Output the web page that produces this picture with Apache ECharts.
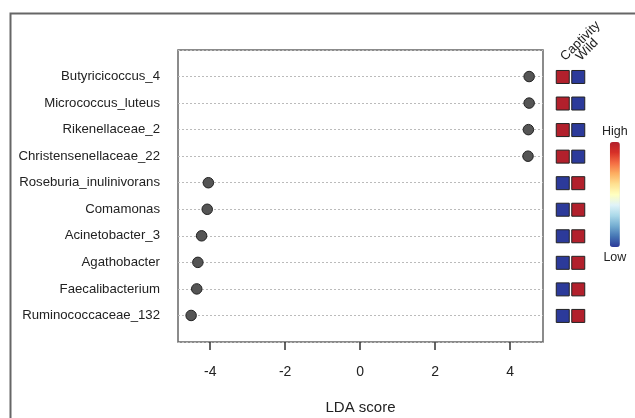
<!DOCTYPE html>
<html>
<head>
<meta charset="utf-8">
<script src="https://cdn.jsdelivr.net/npm/echarts@6/dist/echarts.min.js"></script>
<style>
  html, body { margin: 0; padding: 0; background: #fff; }
  #chart { width: 635px; height: 418px; }
</style>
</head>
<body>
<div id="chart"></div>
<script>
// taxa, top to bottom
const taxa = [
  "Butyricicoccus_4",
  "Micrococcus_luteus",
  "Rikenellaceae_2",
  "Christensenellaceae_22",
  "Roseburia_inulinivorans",
  "Comamonas",
  "Acinetobacter_3",
  "Agathobacter",
  "Faecalibacterium",
  "Ruminococcaceae_132"
];
const ldaScores = [4.51, 4.51, 4.49, 4.48, -4.05, -4.08, -4.23, -4.33, -4.36, -4.51];
const groups = ["Captivity", "Wild"];
// relative abundance, 1 = high, 0 = low
const captivity = [1, 1, 1, 1, 0, 0, 0, 0, 0, 0];
const wild = [0, 0, 0, 0, 1, 1, 1, 1, 1, 1];
const xTicks = [-4, -2, 0, 2, 4];

const font = "Liberation Sans";

const dots = ldaScores.map((v, i) => [v, i + 1]);
const cells = [];
taxa.forEach((t, i) => {
  cells.push([groups[0], t, captivity[i]]);
  cells.push([groups[1], t, wild[i]]);
});

const chart = echarts.init(document.getElementById("chart"));
chart.setOption({
  animation: false,
  backgroundColor: "#fff",
  textStyle: { fontFamily: font },
  graphic: [
    {
      type: "rect",
      left: 8,
      top: 11,
      shape: { width: 700, height: 500 },
      style: { fill: "none", stroke: "#666", lineWidth: 2 },
      silent: true
    }
  ],
  grid: [
    {
      left: 178, right: 92, top: 50, bottom: 76,
      outerBoundsMode: "none", containLabel: false,
      show: true, borderColor: "#666", borderWidth: 1.5,
      backgroundColor: "transparent"
    },
    {
      left: 555, width: 31, top: 63.7, height: 265.5,
      outerBoundsMode: "none", containLabel: false
    }
  ],
  xAxis: [
    {
      type: "value", gridIndex: 0,
      min: -4.86, max: 4.88,
      axisLine: { show: false, onZero: false },
      splitLine: { show: false },
      axisTick: {
        show: true, customValues: xTicks, length: 8,
        lineStyle: { color: "#333", width: 1.5 }
      },
      axisLabel: {
        customValues: xTicks, margin: 23,
        fontSize: 14, color: "#222", fontFamily: font
      },
      name: "LDA score", nameLocation: "middle", nameGap: 58,
      nameTextStyle: { fontSize: 15, color: "#222", fontFamily: font }
    },
    {
      type: "category", gridIndex: 1, data: groups, position: "top",
      axisLine: { show: false, onZero: false }, axisTick: { show: false },
      axisLabel: {
        rotate: -45, margin: 5, interval: 0,
        fontSize: 13, color: "#222", fontFamily: font
      }
    }
  ],
  yAxis: [
    {
      type: "value", gridIndex: 0,
      min: 0, max: 11, interval: 1, inverse: true,
      axisLine: { show: false }, axisTick: { show: false },
      axisLabel: {
        margin: 18, fontSize: 13.2, color: "#222", fontFamily: font,
        formatter: v => taxa[v - 1] || ""
      },
      splitLine: {
        show: true,
        lineStyle: { color: "#bbb", type: [2, 2], width: 1 }
      }
    },
    {
      type: "category", gridIndex: 1, data: taxa, inverse: true,
      axisLine: { show: false }, axisTick: { show: false },
      axisLabel: { show: false }
    }
  ],
  visualMap: {
    type: "continuous",
    seriesIndex: 1,
    min: 0, max: 1,
    left: 587, top: 110,
    itemWidth: 10, itemHeight: 105,
    text: ["High", "Low"],
    textGap: 4,
    calculable: false,
    textStyle: { fontSize: 12.5, color: "#222", fontFamily: font },
    inRange: {
      color: ["#2c3a9a", "#4575b4", "#74add1", "#abd9e9", "#e0f3f8",
              "#ffffbf", "#fee090", "#fdae61", "#f46d43", "#d73027", "#b2202c"]
    }
  },
  series: [
    {
      type: "scatter", xAxisIndex: 0, yAxisIndex: 0,
      data: dots, symbolSize: 10.5,
      itemStyle: { color: "#555", borderColor: "#222", borderWidth: 1, opacity: 1 }
    },
    {
      type: "scatter", xAxisIndex: 1, yAxisIndex: 1,
      data: cells, symbol: "rect", symbolSize: [13, 13],
      itemStyle: { borderColor: "#222", borderWidth: 1, opacity: 1 }
    }
  ]
});
</script>
</body>
</html>
